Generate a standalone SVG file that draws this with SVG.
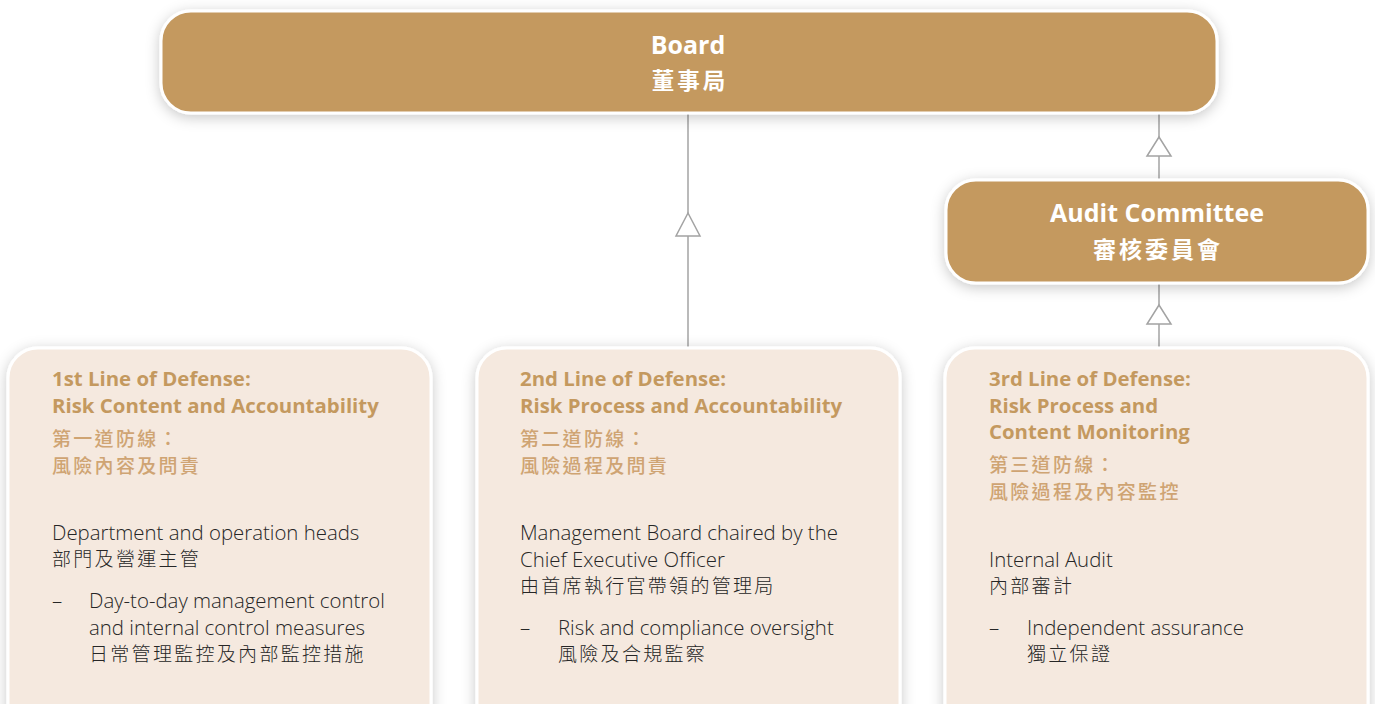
<svg xmlns="http://www.w3.org/2000/svg" width="1375" height="704" viewBox="0 0 1375 704">
  <defs>
    <filter id="shadow" x="-10%" y="-30%" width="120%" height="160%">
      <feDropShadow dx="0" dy="3" stdDeviation="7" flood-color="#000" flood-opacity="0.22"/>
    </filter>
    <style>
      .head { fill: #c4995f; stroke: #fff; stroke-width: 3; filter: url(#shadow); }
      .line-box { fill: #f5e9df; stroke: #fff; stroke-width: 3; filter: url(#shadow); }
      .head-en { font-family: "Open Sans", "Liberation Sans", sans-serif; font-weight: 700; fill: #fff; text-anchor: middle; }
      .head-zh { font-family: "Noto Sans CJK TC", sans-serif; font-weight: 700; fill: #fff; text-anchor: middle; letter-spacing: 3px; }
      .title-en { font-family: "Open Sans", "Liberation Sans", sans-serif; font-weight: 700; font-size: 20.4px; fill: #c4995f; }
      .title-zh { font-family: "Noto Sans CJK TC", sans-serif; font-weight: 500; font-size: 19px; fill: #cfa473; letter-spacing: 2.3px; }
      .body-en { font-family: "Open Sans", "Liberation Sans", sans-serif; font-weight: 300; font-size: 20.4px; fill: #262626; }
      .body-zh { font-family: "Noto Sans CJK TC", sans-serif; font-weight: 300; font-size: 19px; fill: #262626; letter-spacing: 2.3px; }
      .wire { stroke: #a3a3a3; stroke-width: 1.5; fill: none; }
      .tri { fill: #fff; stroke: #a3a3a3; stroke-width: 1.5; }
    </style>
  </defs>

  <rect width="1375" height="704" fill="#fff"/>

  <!-- connectors -->
  <g id="connectors">
    <line class="wire" x1="688" y1="113" x2="688" y2="349"/>
    <polygon class="tri" points="688,213 676,236 700,236"/>
    <line class="wire" x1="1159" y1="113" x2="1159" y2="181"/>
    <polygon class="tri" points="1159,137 1147,156 1171,156"/>
    <line class="wire" x1="1159" y1="282" x2="1159" y2="349"/>
    <polygon class="tri" points="1159,305 1147,324 1171,324"/>
  </g>

  <g id="board">
    <rect class="head" x="161" y="11" width="1056" height="102" rx="30"/>
    <text class="head-en" x="688" y="54" font-size="25">Board</text>
    <text class="head-zh" x="690" y="89" font-size="22.5">董事局</text>
  </g>

  <g id="audit-committee">
    <rect class="head" x="946" y="180" width="422" height="103" rx="30"/>
    <text class="head-en" x="1157" y="222" font-size="25">Audit Committee</text>
    <text class="head-zh" x="1158" y="258" font-size="23">審核委員會</text>
  </g>

  <g id="first-line">
    <rect class="line-box" x="8" y="348" width="423" height="400" rx="30"/>
    <text class="title-en" x="52" y="386">1st Line of Defense:</text>
    <text class="title-en" x="52" y="413">Risk Content and Accountability</text>
    <text class="title-zh" x="52" y="446">第一道防線：</text>
    <text class="title-zh" x="52" y="473">風險內容及問責</text>
    <text class="body-en" x="52" y="540">Department and operation heads</text>
    <text class="body-zh" x="52" y="566">部門及營運主管</text>
    <text class="body-en" x="52" y="608">–</text>
    <text class="body-en" x="89" y="608">Day-to-day management control</text>
    <text class="body-en" x="89" y="635">and internal control measures</text>
    <text class="body-zh" x="89" y="661">日常管理監控及內部監控措施</text>
  </g>

  <g id="second-line">
    <rect class="line-box" x="477" y="348" width="423" height="400" rx="30"/>
    <text class="title-en" x="520" y="386">2nd Line of Defense:</text>
    <text class="title-en" x="520" y="413">Risk Process and Accountability</text>
    <text class="title-zh" x="520" y="446">第二道防線：</text>
    <text class="title-zh" x="520" y="473">風險過程及問責</text>
    <text class="body-en" x="520" y="540">Management Board chaired by the</text>
    <text class="body-en" x="520" y="567">Chief Executive Officer</text>
    <text class="body-zh" x="520" y="593">由首席執行官帶領的管理局</text>
    <text class="body-en" x="520" y="635">–</text>
    <text class="body-en" x="558" y="635">Risk and compliance oversight</text>
    <text class="body-zh" x="558" y="661">風險及合規監察</text>
  </g>

  <g id="third-line">
    <rect class="line-box" x="945" y="348" width="423" height="400" rx="30"/>
    <text class="title-en" x="989" y="386">3rd Line of Defense:</text>
    <text class="title-en" x="989" y="413">Risk Process and</text>
    <text class="title-en" x="989" y="439">Content Monitoring</text>
    <text class="title-zh" x="989" y="472">第三道防線：</text>
    <text class="title-zh" x="989" y="499">風險過程及內容監控</text>
    <text class="body-en" x="989" y="567">Internal Audit</text>
    <text class="body-zh" x="989" y="593">內部審計</text>
    <text class="body-en" x="989" y="635">–</text>
    <text class="body-en" x="1027" y="635">Independent assurance</text>
    <text class="body-zh" x="1027" y="661">獨立保證</text>
  </g>
</svg>
